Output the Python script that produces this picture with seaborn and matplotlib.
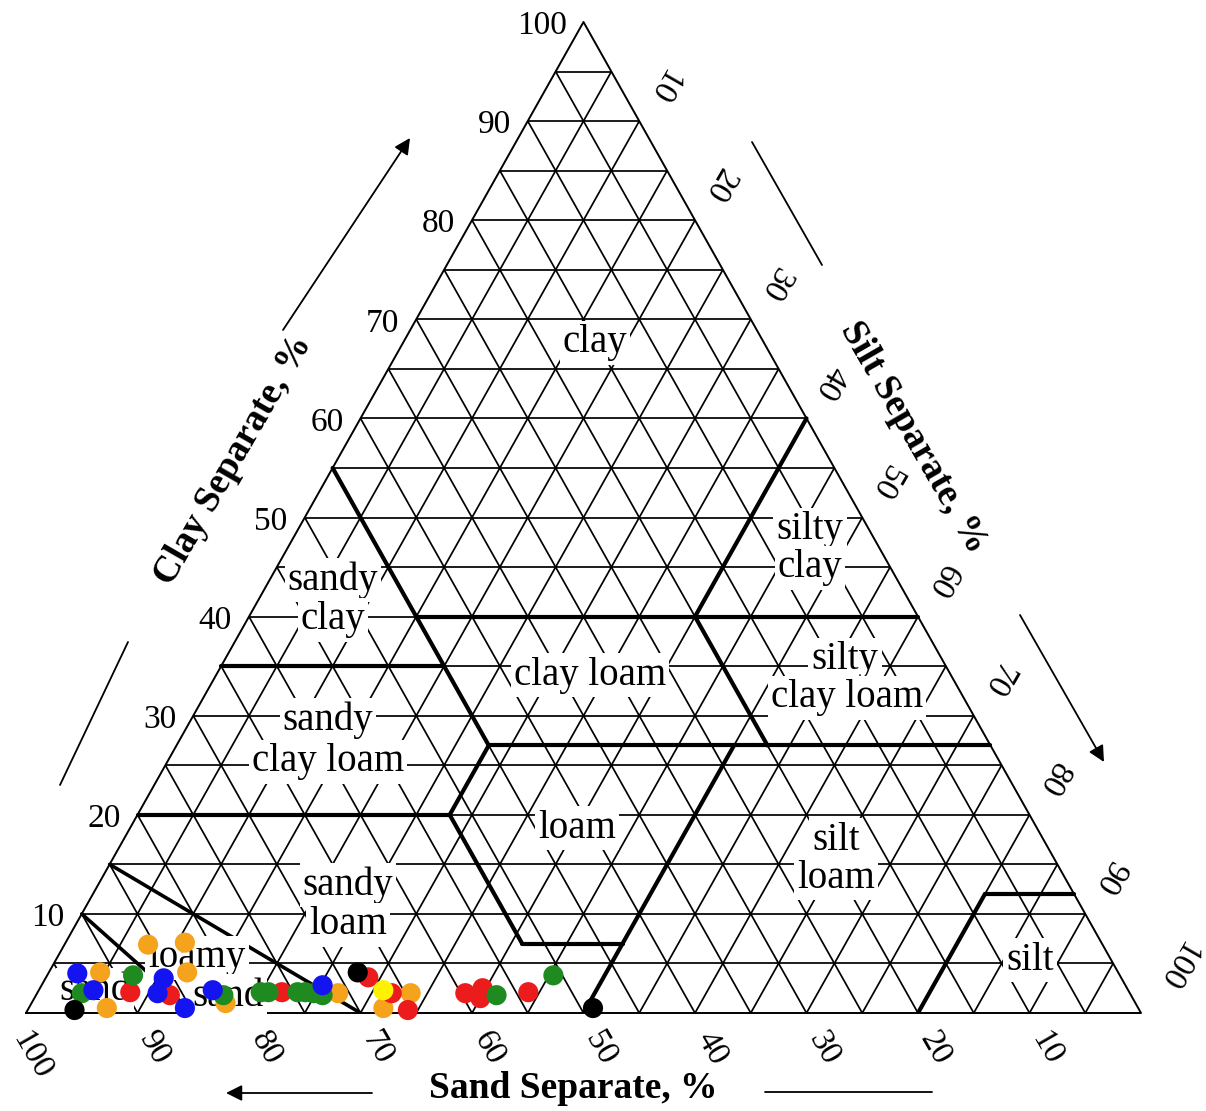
import numpy as np
import pandas as pd
import matplotlib
matplotlib.use("Agg")
import matplotlib.pyplot as plt
import seaborn as sns

# ---- sample textures (sand %, clay %); silt = 100 - sand - clay ----
orange_sand = [85.6, 82.2, 91.3, 83.5, 92.5, 81.6, 71.0, 67.7, 64.5]
orange_clay = [6.9, 7.1, 4.1, 4.1, 0.5, 1.0, 2.0, 0.5, 2.0]

red_sand = [89.6, 86.2, 76.0, 67.5, 66.2, 65.6, 59.6, 57.8, 58.5, 53.9]
red_clay = [2.1, 1.8, 2.1, 3.6, 2.0, 0.3, 2.0, 2.5, 1.5, 2.1]

green_sand = [88.5, 94.0, 81.4, 77.9, 77.2, 74.6, 73.9, 73.2, 72.5, 56.9, 50.8]
green_clay = [3.8, 2.0, 1.8, 2.1, 2.1, 2.1, 2.1, 2.0, 1.8, 1.8, 3.8]

blue_sand = [93.4, 92.8, 85.9, 87.2, 85.5, 82.1, 72.0]
blue_clay = [4.0, 2.3, 3.5, 2.0, 0.5, 2.3, 2.8]

yellow_sand = [66.8]
yellow_clay = [2.3]

black_sand = [95.5, 68.2, 48.9]
black_clay = [0.3, 4.1, 0.5]

group_colors = {
    "orange": "#f5a31c",
    "red": "#ec1c1c",
    "green": "#1f8a1f",
    "blue": "#1414f0",
    "yellow": "#fff200",
    "black": "#000000",
}

# USDA class boundaries as (sand, clay) polylines
boundaries = [
    [(45, 55), (45, 27)],
    [(65, 35), (45, 35)],
    [(45, 40), (0, 40)],
    [(20, 40), (0, 60)],
    [(20, 40), (20, 27)],
    [(45, 27), (0, 27)],
    [(45, 27), (52, 20)],
    [(80, 20), (52, 20)],
    [(52, 20), (52, 7)],
    [(52, 7), (43, 7)],
    [(23, 27), (50, 0)],
    [(20, 0), (8, 12)],
    [(8, 12), (0, 12)],
]
sand_boundaries = [
    [(85, 15), (70, 0)],
    [(90, 10), (85, 0)],
]

tick_values = [10, 20, 30, 40, 50, 60, 70, 80, 90, 100]


def tern_x(sand, clay):
    return 100.0 - np.asarray(sand, float) - np.asarray(clay, float) / 2.0


def tern_y(clay):
    return np.asarray(clay, float)


# ---- figure / axes (x: 0..100 across the base, y: clay 0..100) ----
W, H = 1206, 1111
X0, X1, YB, YT = 26, 1141, 1013, 22
sx = (X1 - X0) / 100.0
sy = (YB - YT) / 100.0

sns.set_theme(style="white")
plt.rcParams["font.family"] = ["Liberation Serif", "DejaVu Serif"]
plt.rcParams["text.color"] = "black"

fig = plt.figure(figsize=(W / 100, H / 100), dpi=100)
ax = fig.add_axes([X0 / W, (H - YB) / H, (X1 - X0) / W, (YB - YT) / H])
ax.set_xlim(0, 100)
ax.set_ylim(0, 100)
ax.axis("off")


def px(xp, yp):
    """pixel position -> axes data position"""
    return ((xp - X0) / sx, (YB - yp) / sy)


grid_kw = dict(color="black", lw=1.25, solid_capstyle="butt", zorder=1)
for k in range(5, 100, 5):
    ax.plot([k / 2, 100 - k / 2], [k, k], **grid_kw)              # constant clay
    ax.plot([100 - k, (100 - k) / 2], [0, 100 - k], **grid_kw)    # constant sand
    ax.plot([k, 50 + k / 2], [0, 100 - k], **grid_kw)             # constant silt
ax.plot([0, 100, 50, 0], [0, 0, 100, 0], color="black", lw=1.4, zorder=1,
        clip_on=False)

for line in boundaries:
    s, c = zip(*line)
    ax.plot(tern_x(s, c), tern_y(c), color="black", lw=3.0,
            solid_capstyle="round", zorder=2)
for line in sand_boundaries:
    s, c = zip(*line)
    ax.plot(tern_x(s, c), tern_y(c), color="black", lw=2.6,
            solid_capstyle="round", zorder=2)

# ---- class names ----
label_kw = dict(fontsize=28, ha="center", va="center", zorder=3, color="black",
                bbox=dict(boxstyle="square,pad=0.08", fc="white", ec="none"))
class_names = [
    ("clay", 595, 343), ("silty", 810, 530), ("clay", 810, 568),
    ("sandy", 333, 580), ("clay", 333, 620), ("clay loam", 590, 675),
    ("silty", 845, 660), ("clay loam", 847, 698),
    ("sandy", 328, 720), ("clay loam", 328, 762), ("loam", 577, 828),
    ("silt", 836, 840), ("loam", 836, 878),
    ("sandy", 348, 885), ("loam", 348, 925),
    ("loamy", 197, 958), ("sand", 228, 996), ("sand", 95, 990),
    ("silt", 1030, 960),
]
for name, xp, yp in class_names:
    ax.text(*px(xp, yp), name, **label_kw)

# ---- sample points ----
frames = []
for g, s, c in [("orange", orange_sand, orange_clay), ("red", red_sand, red_clay),
                ("green", green_sand, green_clay), ("blue", blue_sand, blue_clay),
                ("yellow", yellow_sand, yellow_clay), ("black", black_sand, black_clay)]:
    frames.append(pd.DataFrame({"sand": s, "clay": c, "group": g}))
df = pd.concat(frames, ignore_index=True)
df["x"] = tern_x(df["sand"], df["clay"])
df["y"] = tern_y(df["clay"])
sns.scatterplot(data=df, x="x", y="y", hue="group", palette=group_colors,
                s=210, edgecolor="none", linewidth=0, legend=False,
                ax=ax, zorder=5, clip_on=False)
ax.set_xlabel("")
ax.set_ylabel("")

# ---- percentage labels ----
num_kw = dict(fontsize=24, zorder=3, color="black")
for v in tick_values:
    # clay along the left edge
    ex, ey = v / 2 * sx + X0, YB - v * sy
    ax.text(*px(ex - 17, ey + 4), str(v), ha="right", va="center", **num_kw)
    # sand along the base
    bx = X0 + (100 - v) * sx
    dx, dy = (17, 35) if v < 100 else (6, 42)
    ax.text(*px(bx + dx, YB + dy), str(v), ha="center", va="center",
            rotation=-60, **num_kw)
    # silt along the right edge
    rx, ry = X0 + (50 + v / 2) * sx, YB - (100 - v) * sy
    dx, dy = (24, -36) if v < 100 else (36, -48)
    ax.text(*px(rx + dx, ry + dy), str(v), ha="center", va="center",
            rotation=-120, **num_kw)

# ---- axis titles ----
title_kw = dict(fontsize=27, fontweight="bold", ha="center", va="center",
                zorder=3, color="black")
ax.text(*px(233, 460), "Clay Separate, %", rotation=60, **title_kw)
ax.text(*px(913, 437), "Silt Separate, %", rotation=-60, **title_kw)
ax.text(*px(573, 1088), "Sand Separate, %", rotation=0, **title_kw)

# ---- direction arrows and guide strokes ----
arrow_kw = dict(arrowstyle="-|>", color="black", lw=1.3, mutation_scale=24,
                shrinkA=0, shrinkB=0)
for start, end in [((283, 330), (410, 138)),
                   ((1020, 615), (1104, 762)),
                   ((372, 1093), (226, 1093))]:
    ax.annotate("", xy=px(*end), xytext=px(*start), arrowprops=arrow_kw,
                annotation_clip=False)
for start, end in [((60, 785), (128, 642)),
                   ((752, 142), (822, 265)),
                   ((765, 1092), (932, 1092))]:
    (xa, ya), (xb, yb) = px(*start), px(*end)
    ax.plot([xa, xb], [ya, yb], color="black", lw=1.3, clip_on=False)

fig.savefig("out.png", dpi=100)
